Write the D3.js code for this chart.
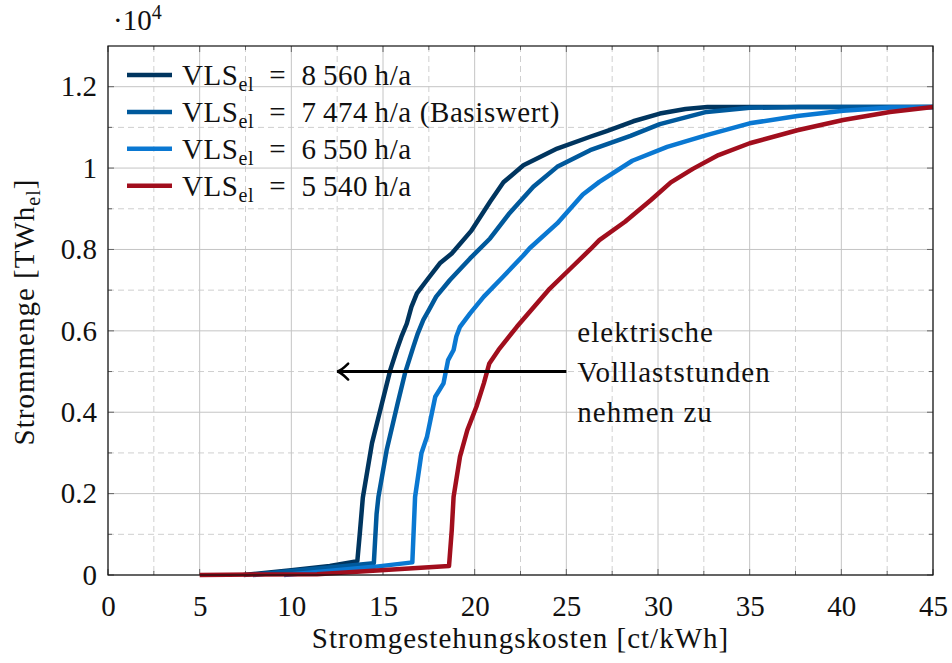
<!DOCTYPE html>
<html>
<head>
<meta charset="utf-8">
<script src="https://cdn.jsdelivr.net/npm/d3@7"></script>
<style>
  body { margin: 0; background: #fff; }
  text { font-family: 'Liberation Serif', 'DejaVu Serif', serif; fill: #111; }
</style>
</head>
<body>
<div id="chart-area"></div>
<script>
// axis ticks
const X_TICKS = [0, 5, 10, 15, 20, 25, 30, 35, 40, 45];
const Y_TICKS = [0, 0.2, 0.4, 0.6, 0.8, 1, 1.2];

// series: Stromgestehungskosten [ct/kWh] vs Strommenge [10^4 TWh_el]
const cost8560 = [7.4, 10, 12.1, 13.6, 13.75, 13.9, 14.4, 14.9, 15.4, 15.75, 16.0, 16.3, 16.55, 16.85, 17.4, 18.1, 18.75, 19.8, 20.84, 21.57, 22.66, 24.5, 26.3, 27.2, 28.65, 30.1, 31.5, 32.7, 45];
const gen8560  = [0, 0.012, 0.022, 0.034, 0.11, 0.19, 0.324, 0.414, 0.504, 0.553, 0.585, 0.618, 0.659, 0.692, 0.725, 0.766, 0.79, 0.845, 0.917, 0.965, 1.007, 1.048, 1.077, 1.091, 1.115, 1.134, 1.145, 1.15, 1.15];

const cost7474 = [7.9, 10, 12.5, 14.5, 14.65, 14.75, 15.2, 15.8, 16.2, 16.65, 16.9, 17.2, 17.5, 17.9, 18.65, 19.75, 20.84, 21.9, 23.2, 24.5, 26.3, 28.5, 30.1, 32.65, 35, 37.7, 45];
const gen7474  = [0, 0.01, 0.02, 0.029, 0.15, 0.192, 0.307, 0.422, 0.496, 0.56, 0.594, 0.627, 0.651, 0.684, 0.725, 0.778, 0.827, 0.889, 0.954, 1.003, 1.044, 1.079, 1.108, 1.138, 1.148, 1.15, 1.15];

const cost6550 = [9.6, 12, 14.5, 16.6, 16.75, 17.1, 17.4, 17.85, 18.3, 18.55, 18.85, 19.0, 19.2, 19.75, 20.5, 21.55, 22.65, 23.0, 24.5, 25.9, 26.8, 28.6, 30.5, 32.65, 35, 37.6, 40.1, 42.7, 45];
const gen6550  = [0, 0.01, 0.02, 0.031, 0.192, 0.3, 0.34, 0.438, 0.471, 0.528, 0.553, 0.586, 0.61, 0.643, 0.684, 0.733, 0.785, 0.803, 0.864, 0.935, 0.966, 1.018, 1.052, 1.081, 1.11, 1.128, 1.141, 1.149, 1.15];

const cost5540 = [5, 11.4, 15.75, 18.6, 18.75, 18.85, 19.2, 19.6, 20.1, 20.5, 20.8, 21.3, 22.3, 24.1, 25.2, 26.3, 26.8, 28.2, 29.6, 30.7, 31.9, 33.3, 35, 37.6, 40.1, 42.65, 45];
const gen5540  = [0, 0.002, 0.014, 0.022, 0.11, 0.192, 0.291, 0.356, 0.414, 0.471, 0.52, 0.553, 0.61, 0.704, 0.752, 0.80, 0.823, 0.868, 0.921, 0.965, 0.998, 1.032, 1.061, 1.093, 1.118, 1.138, 1.15];

const LABELS = ['8\u2009560', '7\u2009474', '6\u2009550', '5\u2009540'];
const SUFFIX = ['', ' (Basiswert)', '', ''];
const COLORS = ['#00355f', '#00599c', '#0a78d2', '#a10e1d'];

const series = [
  {cost: cost8560, gen: gen8560},
  {cost: cost7474, gen: gen7474},
  {cost: cost6550, gen: gen6550},
  {cost: cost5540, gen: gen5540}
];

const MARGIN = {LEFT: 108, RIGHT: 19, TOP: 46, BOTTOM: 88};
const WIDTH = 952 - MARGIN.LEFT - MARGIN.RIGHT;
const HEIGHT = 663 - MARGIN.TOP - MARGIN.BOTTOM;
const FS = 29;

const svg = d3.select('#chart-area')
  .append('svg')
  .attr('width', 952)
  .attr('height', 663);

const g = svg.append('g')
  .attr('transform', `translate(${MARGIN.LEFT},${MARGIN.TOP})`);

const x = d3.scaleLinear().domain([0, 45]).range([0, WIDTH]);
const y = d3.scaleLinear().domain([0, 1.3]).range([HEIGHT, 0]);

// grid
const minorX = d3.range(2.5, 45, 5);
const minorY = d3.range(0.1, 1.3, 0.2);

g.selectAll('.gx-minor').data(minorX).enter().append('line')
  .attr('x1', d => x(d)).attr('x2', d => x(d))
  .attr('y1', 0).attr('y2', HEIGHT)
  .attr('stroke', '#cfcfcf').attr('stroke-dasharray', '6,4');
g.selectAll('.gy-minor').data(minorY).enter().append('line')
  .attr('y1', d => y(d)).attr('y2', d => y(d))
  .attr('x1', 0).attr('x2', WIDTH)
  .attr('stroke', '#cfcfcf').attr('stroke-dasharray', '6,4');
g.selectAll('.gx-major').data(X_TICKS).enter().append('line')
  .attr('x1', d => x(d)).attr('x2', d => x(d))
  .attr('y1', 0).attr('y2', HEIGHT)
  .attr('stroke', '#c4c4c4');
g.selectAll('.gy-major').data(Y_TICKS).enter().append('line')
  .attr('y1', d => y(d)).attr('y2', d => y(d))
  .attr('x1', 0).attr('x2', WIDTH)
  .attr('stroke', '#c4c4c4');

// tick marks on all four sides
const tickCol = '#666';
[[X_TICKS, 6], [minorX, 4]].forEach(([ticks, len]) => {
  ticks.forEach(t => {
    g.append('line').attr('x1', x(t)).attr('x2', x(t)).attr('y1', HEIGHT).attr('y2', HEIGHT - len).attr('stroke', tickCol);
    g.append('line').attr('x1', x(t)).attr('x2', x(t)).attr('y1', 0).attr('y2', len).attr('stroke', tickCol);
  });
});
[[Y_TICKS, 6], [minorY, 4]].forEach(([ticks, len]) => {
  ticks.forEach(t => {
    g.append('line').attr('y1', y(t)).attr('y2', y(t)).attr('x1', 0).attr('x2', len).attr('stroke', tickCol);
    g.append('line').attr('y1', y(t)).attr('y2', y(t)).attr('x1', WIDTH).attr('x2', WIDTH - len).attr('stroke', tickCol);
  });
});

// tick labels via d3 axes
const xAxis = g.append('g')
  .attr('transform', `translate(0,${HEIGHT})`)
  .call(d3.axisBottom(x).tickValues(X_TICKS).tickSize(0).tickPadding(20).tickFormat(d3.format('d')));
const yAxis = g.append('g')
  .call(d3.axisLeft(y).tickValues(Y_TICKS).tickSize(0).tickPadding(11).tickFormat(d => d === 0 || d === 1 ? String(d) : d.toFixed(1)));
[xAxis, yAxis].forEach(a => {
  a.select('.domain').remove();
  a.selectAll('text').attr('font-size', FS).attr('font-family', "'Liberation Serif', serif").attr('fill', '#111');
});

// lines
const line = d3.line()
  .x(d => x(d[0]))
  .y(d => y(d[1]));

series.forEach((s, i) => {
  const pts = s.cost.map((c, j) => [c, s.gen[j]]);
  g.append('path')
    .datum(pts)
    .attr('d', line)
    .attr('fill', 'none')
    .attr('stroke', COLORS[i])
    .attr('stroke-width', 4.5)
    .attr('stroke-linejoin', 'round');
});

// frame
g.append('rect')
  .attr('width', WIDTH).attr('height', HEIGHT)
  .attr('fill', 'none').attr('stroke', '#111').attr('stroke-width', 1.2);

// legend
const legend = g.append('g').attr('transform', 'translate(19,29)');
LABELS.forEach((lab, i) => {
  const row = legend.append('g').attr('transform', `translate(0,${i * 36.9})`);
  row.append('line').attr('x1', 0).attr('x2', 45).attr('y1', 0).attr('y2', 0)
    .attr('stroke', COLORS[i]).attr('stroke-width', 4.5);
  const t = row.append('text').attr('x', 55).attr('y', 10).attr('font-size', FS).attr('letter-spacing', 0.6);
  t.append('tspan').text('VLS');
  t.append('tspan').attr('font-size', 20).attr('dy', 6).text('el');
  t.append('tspan').attr('dy', -6).text(`\u2002=\u2002${lab}\u2009h/a${SUFFIX[i]}`);
});

// annotation arrow
const ay = y(0.5);
g.append('line')
  .attr('x1', x(25)).attr('x2', x(12.5) + 2)
  .attr('y1', ay).attr('y2', ay)
  .attr('stroke', '#000').attr('stroke-width', 3);
const tipX = x(12.5);
g.append('path')
  .attr('d', `M${tipX + 11},${ay - 8} Q${tipX + 4},${ay - 1} ${tipX},${ay} Q${tipX + 4},${ay + 1} ${tipX + 11},${ay + 8}`)
  .attr('fill', 'none').attr('stroke', '#000').attr('stroke-width', 2.5).attr('stroke-linecap', 'round');

const note = ['elektrische', 'Volllaststunden', 'nehmen zu'];
g.selectAll('.note').data(note).enter().append('text')
  .attr('x', x(25) + 11)
  .attr('y', (d, i) => ay - 30 + i * 40)
  .attr('font-size', FS)
  .attr('letter-spacing', 1)
  .text(d => d);

// axis titles
svg.append('text')
  .attr('x', MARGIN.LEFT + WIDTH / 2)
  .attr('y', 648)
  .attr('text-anchor', 'middle')
  .attr('font-size', FS)
  .attr('letter-spacing', 1)
  .text('Stromgestehungskosten [ct/kWh]');

const yt = svg.append('text')
  .attr('transform', `translate(34,312) rotate(-90)`)
  .attr('text-anchor', 'middle')
  .attr('font-size', FS)
  .attr('letter-spacing', 1);
yt.append('tspan').text('Strommenge [TWh');
yt.append('tspan').attr('font-size', 20).attr('dy', 6).text('el');
yt.append('tspan').attr('dy', -6).text(']');

// exponent
const ex = svg.append('text').attr('x', 113).attr('y', 30).attr('font-size', FS);
ex.append('tspan').text('\u00b710');
ex.append('tspan').attr('font-size', 20).attr('dy', -11).text('4');
</script>
</body>
</html>
